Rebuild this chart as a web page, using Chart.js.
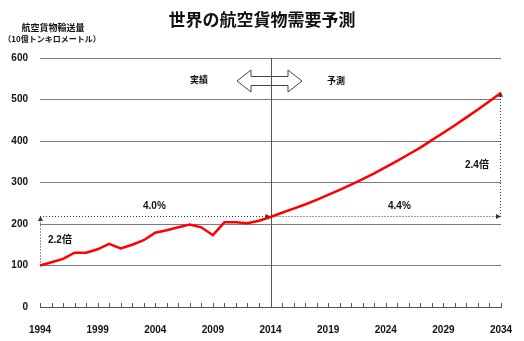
<!DOCTYPE html>
<html>
<head>
<meta charset="utf-8">
<script src="https://cdn.jsdelivr.net/npm/chart.js@4.4.1/dist/chart.umd.min.js"></script>
<style>
  html, body { margin: 0; padding: 0; background: #fff; }
  #wrap { width: 524px; height: 341px; position: relative; }
</style>
</head>
<body>
<div id="wrap"><canvas id="chart"></canvas></div>
<script>
// ===== データ =====
const years = [];
for (let y = 1994; y <= 2034; y++) years.push(String(y));

// 実績 1994-2014 + 予測 2015-2034（10億トンキロメートル）
const demand = [
  100, 108, 116, 131, 131, 139, 152, 141, 150, 161,
  179, 185, 192, 199, 192, 173, 204, 204, 202, 208,
  217,
  227, 237, 247, 258, 270, 282, 295, 308, 322, 337,
  352, 368, 384, 402, 420, 438, 457, 476, 496, 516
];

const yTicks = [0, 100, 200, 300, 400, 500, 600];
const xTickLabels = ['1994', '1999', '2004', '2009', '2014', '2019', '2024', '2029', '2034'];
const splitYear = '2014';
const rateLabels = ['4.0%', '4.4%'];
const ratioLabels = ['2.2倍', '2.4倍'];

const FONT = '"Liberation Sans", Arial, "Noto Sans CJK JP", sans-serif';
const JFONT = '"Noto Sans CJK JP", "Liberation Sans", sans-serif';

// ===== 注記プラグイン =====
function arrowHead(ctx, x, y, dir) {
  ctx.beginPath();
  if (dir === 'up') {
    ctx.moveTo(x, y); ctx.lineTo(x - 2.5, y + 5); ctx.lineTo(x + 2.5, y + 5);
  } else {
    ctx.moveTo(x, y); ctx.lineTo(x - 5, y - 2.5); ctx.lineTo(x - 5, y + 2.5);
  }
  ctx.closePath();
  ctx.fill();
}

const annotations = {
  id: 'annotations',
  beforeDatasetsDraw(chart) {
    const { ctx, chartArea: a, scales: { x, y } } = chart;
    const iSplit = years.indexOf(splitYear);
    const xs = x.getPixelForValue(0);
    const xm = x.getPixelForValue(iSplit);
    const xe = x.getPixelForValue(years.length - 1);
    const yBase = y.getPixelForValue(demand[0]);
    const yMid = y.getPixelForValue(demand[iSplit]);
    const yEnd = y.getPixelForValue(demand[demand.length - 1]);

    ctx.save();
    // 目盛（上向き）
    ctx.strokeStyle = '#555';
    ctx.lineWidth = 1;
    years.forEach((_, i) => {
      const px = Math.round(x.getPixelForValue(i)) + 0.5;
      ctx.beginPath();
      ctx.moveTo(px, a.bottom);
      ctx.lineTo(px, a.bottom - 4);
      ctx.stroke();
    });

    // 両矢印
    const cy = 81, l = 237, r = 302, hw = 14, hh = 11, sh = 4.5;
    ctx.beginPath();
    ctx.moveTo(l, cy);
    ctx.lineTo(l + hw, cy - hh);
    ctx.lineTo(l + hw, cy - sh);
    ctx.lineTo(r - hw, cy - sh);
    ctx.lineTo(r - hw, cy - hh);
    ctx.lineTo(r, cy);
    ctx.lineTo(r - hw, cy + hh);
    ctx.lineTo(r - hw, cy + sh);
    ctx.lineTo(l + hw, cy + sh);
    ctx.lineTo(l + hw, cy + hh);
    ctx.closePath();
    ctx.fillStyle = '#fff';
    ctx.fill();
    ctx.strokeStyle = '#444';
    ctx.stroke();

    // 2014 縦線
    const vx = Math.round(xm) + 0.5;
    ctx.strokeStyle = '#555';
    ctx.beginPath();
    ctx.moveTo(vx, a.top);
    ctx.lineTo(vx, a.bottom);
    ctx.stroke();

    // 点線矢印
    ctx.strokeStyle = '#333';
    ctx.fillStyle = '#333';
    ctx.setLineDash([1, 2]);
    ctx.beginPath();
    ctx.moveTo(xs + 0.5, yBase);
    ctx.lineTo(xs + 0.5, yMid + 3);
    ctx.moveTo(xs, yMid - 0.5);
    ctx.lineTo(xm - 3, yMid - 0.5);
    ctx.moveTo(xm, yMid - 0.5);
    ctx.lineTo(xe - 3, yMid - 0.5);
    ctx.moveTo(xe - 0.5, yMid);
    ctx.lineTo(xe - 0.5, yEnd + 3);
    ctx.stroke();
    ctx.setLineDash([]);
    arrowHead(ctx, xs + 0.5, yMid - 1, 'up');
    arrowHead(ctx, xm, yMid - 0.5, 'right');
    arrowHead(ctx, xe, yMid - 0.5, 'right');
    arrowHead(ctx, xe - 0.5, yEnd - 1, 'up');

    // テキスト
    ctx.fillStyle = '#111';
    ctx.textBaseline = 'middle';
    ctx.textAlign = 'left';
    ctx.font = 'bold 10px ' + FONT;
    ctx.fillText(ratioLabels[0], 48, 240);
    ctx.fillText(rateLabels[0], 143, 206);
    ctx.fillText(rateLabels[1], 388, 206);
    ctx.fillText(ratioLabels[1], 465, 165);
    ctx.font = 'bold 9px ' + JFONT;
    ctx.fillText('実績', 190, 80);
    ctx.fillText('予測', 327, 81);

    ctx.textAlign = 'center';
    ctx.font = 'bold 17px ' + JFONT;
    ctx.fillText('世界の航空貨物需要予測', 262, 20);
    ctx.font = 'bold 9px ' + JFONT;
    ctx.fillText('航空貨物輸送量', 53, 28);
    ctx.font = 'bold 8px ' + JFONT;
    ctx.fillText('（10億トンキロメートル）', 52, 39);
    ctx.restore();
  }
};

// ===== Chart.js =====
new Chart(document.getElementById('chart'), {
  type: 'line',
  data: {
    labels: years,
    datasets: [{
      data: demand,
      borderColor: '#ff0000',
      borderWidth: 2.5,
      pointRadius: 0,
      tension: 0,
      fill: false
    }]
  },
  options: {
    responsive: true,
    maintainAspectRatio: false,
    animation: false,
    layout: { padding: { top: 58, right: 23, left: 0, bottom: 0 } },
    plugins: { legend: { display: false }, tooltip: { enabled: false } },
    scales: {
      x: {
        offset: false,
        grid: { display: false },
        border: { display: true, color: '#555', width: 1 },
        afterFit: s => { s.height = 34; },
        ticks: {
          autoSkip: false,
          maxRotation: 0,
          padding: 9,
          color: '#111',
          font: { family: FONT, size: 10, weight: 'bold' },
          callback: function (v) {
            const lbl = this.getLabelForValue(v);
            return xTickLabels.includes(lbl) ? lbl : '';
          }
        }
      },
      y: {
        min: yTicks[0],
        max: yTicks[yTicks.length - 1],
        afterFit: s => { s.width = 40; },
        afterBuildTicks: s => { s.ticks = yTicks.map(v => ({ value: v })); },
        grid: { color: '#7a7a7a', lineWidth: 1, drawTicks: false },
        border: { display: false },
        ticks: {
          padding: 12,
          color: '#111',
          font: { family: FONT, size: 10, weight: 'bold' }
        }
      }
    }
  },
  plugins: [annotations]
});
</script>
</body>
</html>
